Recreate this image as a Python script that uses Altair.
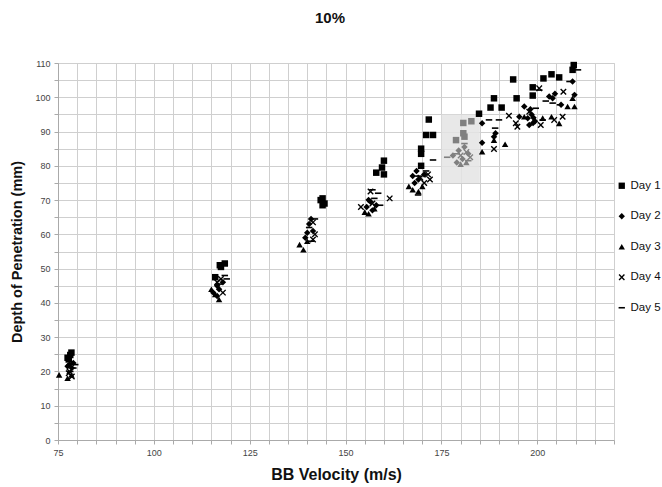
import altair as alt
import pandas as pd

# ---- data (velocity in m/s, depth in mm) ----
day1_velocity = [77.5, 78.5, 77.8, 78.2,
                 117.5, 118.5, 116.0, 117.2,
                 143.5, 144.0, 144.5, 144.0,
                 160.0, 159.5, 158.0, 160.0,
                 171.7, 171.0, 172.8, 169.7, 169.7, 169.7,
                 182.8, 180.7, 180.7, 181.0, 178.8,
                 184.8, 187.8, 190.7, 188.7, 194.6, 193.7, 198.8, 198.8, 201.6, 203.7, 205.7, 209.2, 209.5]
day1_depth = [24.0, 25.5, 23.5, 24.8,
              50.5, 51.5, 47.5, 51.0,
              70.0, 68.5, 69.0, 70.5,
              81.5, 79.5, 78.0, 77.5,
              93.5, 89.0, 89.0, 85.0, 83.5, 80.0,
              93.0, 92.5, 89.5, 88.5, 87.5,
              95.2, 97.0, 97.0, 99.7, 99.7, 105.2, 102.9, 100.5, 105.5, 106.7, 105.8, 108.0, 109.4]

day2_velocity = [78.0, 78.6, 79.0, 77.5,
                 116.5, 117.0, 118.0, 115.5, 116.5,
                 141.0, 140.5, 140.0, 141.5, 139.5,
                 155.5, 156.5, 157.0, 156.0, 158.0,
                 167.5, 168.5, 169.0, 170.5, 168.0,
                 178.0, 179.5, 180.5, 181.0, 182.0, 179.0,
                 185.6, 185.6, 188.7, 189.1, 195.3, 196.6, 197.5, 197.9, 198.5, 199.0, 198.2,
                 199.4, 198.9, 203.1, 204.0, 204.6, 206.2, 209.7, 209.2]
day2_depth = [22.0, 21.0, 22.5, 21.5,
              45.0, 44.0, 46.0, 43.0, 42.0,
              64.5, 63.0, 60.5, 61.0, 59.0,
              68.0, 69.5, 67.0, 70.0, 68.5,
              77.0, 78.5, 76.0, 77.5, 75.0,
              83.0, 84.5, 82.0, 85.5, 83.5, 81.0,
              92.4, 86.7, 88.5, 89.5, 94.3, 97.3, 93.9, 91.9, 95.0, 94.0, 96.5,
              93.0, 92.5, 100.2, 99.7, 101.0, 97.8, 100.7, 104.6]

day3_velocity = [75.3, 77.5, 78.5,
                 115.0, 116.0, 117.0,
                 138.0, 139.0, 140.0,
                 155.0, 156.0, 157.5,
                 166.5, 167.5, 169.0, 170.0,
                 180.0, 181.5,
                 185.6, 188.7, 191.6, 196.6, 201.4, 203.7, 205.7, 207.9, 209.7, 209.2]
day3_depth = [19.0, 18.0, 19.0,
              44.0, 42.5, 41.0,
              57.0, 55.5, 58.0,
              66.5, 66.0, 67.5,
              74.0, 73.0, 72.5, 74.0,
              80.5, 81.0,
              84.1, 87.5, 86.3, 94.3, 93.9, 94.3, 92.4, 97.3, 97.3, 99.7]

day4_velocity = [78.0, 78.6, 77.8,
                 117.5, 118.0, 116.5,
                 141.5, 141.5, 142.0,
                 154.0, 156.5, 161.5, 157.0,
                 169.5, 171.5, 172.0, 170.5,
                 181.5, 182.5, 180.0,
                 188.7, 192.6, 194.4, 194.8, 197.9, 200.5, 200.9, 204.4, 206.6, 206.8]
day4_depth = [20.0, 18.5, 19.5,
              47.0, 43.0, 46.0,
              63.5, 58.5, 60.0,
              68.0, 72.5, 70.5, 69.0,
              76.5, 77.5, 76.0, 75.0,
              84.0, 82.5, 83.0,
              84.9, 94.6, 92.4, 91.4, 95.8, 102.6, 91.9, 93.4, 94.3, 101.6]

day5_velocity = [79.0, 78.2, 79.5,
                 118.5, 119.0, 117.0,
                 140.5, 141.0, 142.0,
                 157.0, 158.5, 159.0, 157.5,
                 172.8, 168.9, 169.0, 171.0,
                 176.5, 179.0, 181.0, 182.0,
                 187.4, 189.0, 190.0, 199.6, 200.5, 201.4, 202.2, 204.0, 205.9, 208.4, 210.6]
day5_depth = [21.0, 20.0, 22.0,
              48.0, 47.0, 45.5,
              62.0, 58.0, 64.5,
              73.0, 72.0, 68.5, 70.5,
              81.7, 71.5, 77.0, 78.5,
              82.5, 83.5, 86.5, 81.5,
              93.4, 91.0, 93.4, 96.8, 102.1, 93.4, 98.9, 98.3, 97.8, 104.6, 108.0]

day_names = ["Day 1", "Day 2", "Day 3", "Day 4", "Day 5"]
highlight_velocity = [175, 185]
highlight_depth = [75, 95]

x_ticks = list(range(75, 221, 5))
y_ticks = list(range(0, 111, 5))

# ---- build the table ----
series = [(day1_velocity, day1_depth), (day2_velocity, day2_depth), (day3_velocity, day3_depth),
          (day4_velocity, day4_depth), (day5_velocity, day5_depth)]
rows = []
for name, (vs, ds) in zip(day_names, series):
    for v, d in zip(vs, ds):
        rows.append({"v": v, "d": d, "day": name})
df = pd.DataFrame(rows)
box = pd.DataFrame({"x1": [highlight_velocity[0]], "x2": [highlight_velocity[1]],
                    "y1": [highlight_depth[0]], "y2": [highlight_depth[1]]})

FONT = "Liberation Sans"
x_scale = alt.Scale(domain=[75, 220], nice=False, zero=False)
y_scale = alt.Scale(domain=[0, 110], nice=False)

x_axis = alt.Axis(values=x_ticks, labelExpr="(datum.value - 75) % 25 == 0 ? datum.label : ''",
                  title="BB Velocity (m/s)", titleFontSize=16, titleFont=FONT, titleFontWeight="bold",
                  titleColor="#111", titlePadding=9, labelFont=FONT, labelFontSize=9,
                  labelColor="#444", labelPadding=4, labelFlush=False, tickSize=4, tickColor="#aaa",
                  domainColor="#aaa", gridColor="#cfcfcf", gridWidth=1)
y_axis = alt.Axis(values=y_ticks, labelExpr="datum.value % 10 == 0 ? datum.label : ''",
                  title="Depth of Penetration (mm)", titleFontSize=14.5, titleFont=FONT,
                  titleFontWeight="bold", titleColor="#111", titlePadding=10, labelFont=FONT,
                  labelFontSize=9, labelColor="#444", labelPadding=4, labelFlush=False,
                  tickSize=4, tickColor="#aaa",
                  domainColor="#aaa", gridColor="#cfcfcf", gridWidth=1)

x_path = "M-1,-0.7L-0.7,-1L0,-0.3L0.7,-1L1,-0.7L0.3,0L1,0.7L0.7,1L0,0.3L-0.7,1L-1,0.7L-0.3,0Z"
dash_path = "M-1,-0.25L1,-0.25L1,0.25L-1,0.25Z"

rect = alt.Chart(box).mark_rect(color="#e4e4e4", opacity=0.85).encode(
    x=alt.X("x1:Q", scale=x_scale, axis=x_axis),
    x2="x2:Q",
    y=alt.Y("y1:Q", scale=y_scale, axis=y_axis),
    y2="y2:Q",
)

in_box = "datum.v >= 175 && datum.v <= 185 && datum.d >= 75 && datum.d <= 95"
points = alt.Chart(df).mark_point(filled=True, opacity=1, size=42).encode(
    x=alt.X("v:Q", scale=x_scale, axis=x_axis),
    y=alt.Y("d:Q", scale=y_scale, axis=y_axis),
    shape=alt.Shape("day:N", scale=alt.Scale(domain=day_names,
                    range=["square", "diamond", "triangle-up", x_path, dash_path]),
                    legend=alt.Legend(title=None, orient="none", legendX=558, legendY=117,
                                      labelFont=FONT, labelFontSize=11.5, labelColor="#111",
                                      symbolFillColor="black", symbolStrokeWidth=0,
                                      symbolSize=40, rowPadding=17.5, labelOffset=3,
                                      padding=0)),
    color=alt.condition(in_box, alt.value("#808080"), alt.value("black")),
)

chart = alt.layer(rect, points).properties(
    width=556, height=377,
    title=alt.TitleParams("10%", font=FONT, fontSize=15, fontWeight="bold", color="#111",
                          anchor="middle", offset=33, dx=-6),
    autosize=alt.AutoSizeParams(type="none"),
    padding={"left": 58, "top": 63, "right": 48, "bottom": 47},
).configure_view(stroke=None).configure(background="white")

chart.save("out.html", embed_options={"renderer": "svg", "actions": False})
